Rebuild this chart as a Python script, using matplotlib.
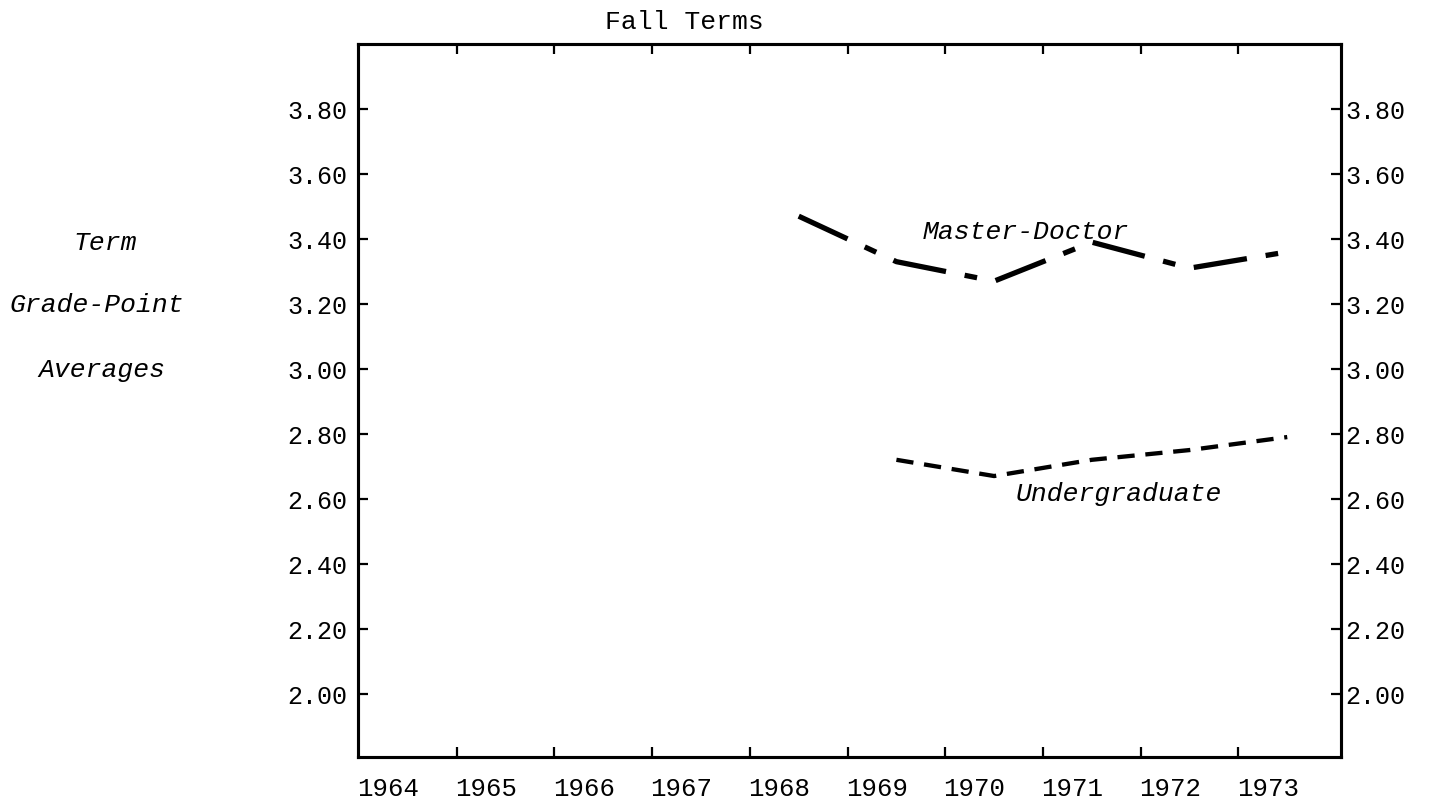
import matplotlib
matplotlib.use("Agg")
import matplotlib.pyplot as plt
from matplotlib.ticker import FixedLocator, FixedFormatter, FormatStrFormatter

# === data ===
years = [1964, 1965, 1966, 1967, 1968, 1969, 1970, 1971, 1972, 1973]
gpa_ticks = [2.00, 2.20, 2.40, 2.60, 2.80, 3.00, 3.20, 3.40, 3.60, 3.80]

md_years = [1968, 1969, 1970, 1971, 1972, 1973]
md_gpa = [3.47, 3.33, 3.27, 3.39, 3.31, 3.36]

ug_years = [1969, 1970, 1971, 1972, 1973]
ug_gpa = [2.72, 2.67, 2.72, 2.75, 2.79]

FONT = "Liberation Mono"
YLIM = (1.805, 4.0)

fig = plt.figure(figsize=(14.31, 8.04), dpi=100)
ax = fig.add_axes([0.2502, 0.0572, 0.6869, 0.8868])

ax.plot(md_years, md_gpa, color="black", lw=3.8,
        dashes=(10.2, 3.6, 2.4, 3.6), dash_capstyle="butt")
ax.plot(ug_years, ug_gpa, color="black", lw=3.1,
        dashes=(4.0, 2.5), dash_capstyle="butt")

ax.set_xlim(1963.49, 1973.55)
ax.set_ylim(*YLIM)

# year boundaries carry the tick marks, labels sit inside each year
ax.xaxis.set_major_locator(FixedLocator([y + 0.5 for y in years[:-1]]))
ax.xaxis.set_major_formatter(FixedFormatter([""] * (len(years) - 1)))
ax.xaxis.set_minor_locator(FixedLocator([y - 0.2 for y in years]))
ax.xaxis.set_minor_formatter(FixedFormatter([str(y) for y in years]))

ax.yaxis.set_major_locator(FixedLocator(gpa_ticks))
ax.yaxis.set_major_formatter(FormatStrFormatter("%.2f"))

ax.tick_params(axis="both", which="major", direction="in", length=7,
               width=1.6, top=True, right=False, labelsize=18)
ax.tick_params(axis="y", which="major", pad=8)
ax.tick_params(axis="x", which="minor", length=0, pad=14, labelsize=18.5)
for lab in ax.get_yticklabels() + ax.get_xticklabels(which="minor"):
    lab.set_fontfamily(FONT)

# right scale, labels close to the frame
ax2 = ax.twinx()
ax2.set_ylim(*YLIM)
ax2.yaxis.set_major_locator(FixedLocator(gpa_ticks))
ax2.yaxis.set_major_formatter(FormatStrFormatter("%.2f"))
ax2.tick_params(axis="y", direction="in", length=7, width=1.6, pad=3,
                labelsize=18)
for lab in ax2.get_yticklabels():
    lab.set_fontfamily(FONT)

for a in (ax, ax2):
    for s in a.spines.values():
        s.set_linewidth(2.2)

ax.text(1970.33, 3.425, "Master-Doctor", fontfamily=FONT, style="italic",
        fontsize=19, ha="center", va="center")
ax.text(1971.28, 2.618, "Undergraduate", fontfamily=FONT, style="italic",
        fontsize=19, ha="center", va="center")

fig.text(0.478, 0.9726, "Fall Terms", fontfamily=FONT, fontsize=19,
         ha="center", va="center")
fig.text(0.0734, 0.6978, "Term", fontfamily=FONT, style="italic",
         fontsize=19, ha="center", va="center")
fig.text(0.0678, 0.6206, "Grade-Point", fontfamily=FONT, style="italic",
         fontsize=19, ha="center", va="center")
fig.text(0.0713, 0.5398, "Averages", fontfamily=FONT, style="italic",
         fontsize=19, ha="center", va="center")

fig.savefig("out.png", dpi=100)
